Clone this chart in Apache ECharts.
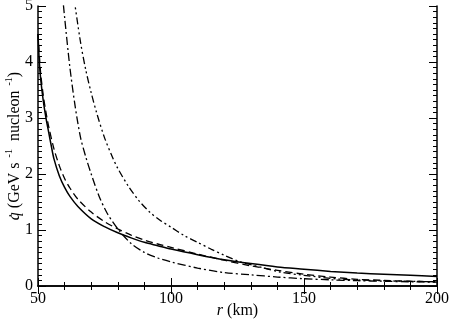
<!DOCTYPE html>
<html><head><meta charset="utf-8">
<script src="https://cdn.jsdelivr.net/npm/echarts@6/dist/echarts.min.js"></script>
<style>html,body{margin:0;padding:0;background:#fff}#c{width:450px;height:321px}</style>
</head><body><div id="c"></div>
<script>
// r (km) and q-dot (GeV s^-1 nucleon^-1)
const solidR = [50, 50.5, 51, 52, 53, 54, 55, 56, 58, 60, 62, 65, 70, 75, 80, 85, 90, 95, 100, 110, 120, 130, 140, 150, 160, 170, 180, 190, 200];
const solidQ = [4.5, 4.0, 3.7, 3.3, 3.0, 2.75, 2.5, 2.27, 1.97, 1.76, 1.6, 1.42, 1.2, 1.06, 0.95, 0.86, 0.78, 0.72, 0.66, 0.56, 0.47, 0.4, 0.34, 0.3, 0.26, 0.23, 0.21, 0.19, 0.17];
const dashR = [50, 51, 52, 53, 54, 56, 58, 60, 62, 65, 70, 75, 80, 85, 90, 95, 100, 110, 120, 130, 140, 150, 160, 170, 180, 190, 200];
const dashQ = [4.5, 3.8, 3.4, 3.1, 2.85, 2.45, 2.15, 1.92, 1.75, 1.55, 1.32, 1.15, 1.02, 0.91, 0.82, 0.75, 0.69, 0.57, 0.46, 0.36, 0.28, 0.21, 0.16, 0.12, 0.1, 0.085, 0.075];
const dotR = [59, 60, 62, 64, 66, 68, 70, 73, 76, 80, 85, 90, 95, 100, 110, 120, 130, 140, 150, 160, 170, 180, 190, 200];
const dotQ = [5.3, 4.8, 3.9, 3.2, 2.65, 2.3, 2.0, 1.6, 1.3, 1.02, 0.76, 0.6, 0.5, 0.43, 0.32, 0.24, 0.2, 0.16, 0.13, 0.11, 0.095, 0.085, 0.075, 0.07];
const dot2R = [63.5, 66, 68, 70, 72, 75, 78, 80, 84, 88, 92, 96, 100, 105, 110, 115, 120, 126, 130, 135, 141, 150, 163, 175, 188, 200];
const dot2Q = [5.15, 4.35, 3.85, 3.45, 3.1, 2.65, 2.3, 2.1, 1.78, 1.52, 1.32, 1.17, 1.05, 0.9, 0.78, 0.66, 0.55, 0.43, 0.38, 0.32, 0.25, 0.19, 0.125, 0.1, 0.085, 0.075];
const xTicks = [50, 100, 150, 200];
const yTicks = [0, 1, 2, 3, 4, 5];

const pairs = (a, b) => a.map((v, i) => [v, b[i]]);
const FONT = 'Liberation Serif';
const axisLine = { lineStyle: { color: '#000', width: 1.5 } };
const tick = { inside: true, length: 8, lineStyle: { color: '#000', width: 1 } };
const mx = { show: true, splitNumber: 5, length: 4, lineStyle: { color: '#000', width: 1 } };
const my = { show: true, splitNumber: 10, length: 4, lineStyle: { color: '#000', width: 1 } };
const xBase = { type: 'value', min: xTicks[0], max: xTicks[xTicks.length - 1], interval: 50, splitLine: { show: false }, axisLine, axisTick: tick, minorTick: mx };
const yBase = { type: 'value', min: yTicks[0], max: yTicks[yTicks.length - 1], interval: 1, splitLine: { show: false }, axisLine, axisTick: tick, minorTick: my };

const chart = echarts.init(document.getElementById('c'), null, { renderer: 'canvas' });
const ls = (type, w) => ({ color: '#000', width: w, type: type, cap: 'butt' });
const mk = (d, type, w) => ({ type: 'line', data: d, showSymbol: false, smooth: 0.3, clip: true, lineStyle: ls(type, w), animation: false });
chart.setOption({
  animation: false,
  backgroundColor: '#fff',
  grid: { left: 38, right: 13, top: 6, bottom: 35, containLabel: false, outerBoundsMode: 'none' },
  xAxis: [
    Object.assign({}, xBase, {
      position: 'bottom',
      axisLabel: { color: '#000', fontFamily: FONT, fontSize: 16, margin: 5 },
      name: '{i|r} (km)', nameLocation: 'middle', nameGap: 17, nameMoveOverlap: false,
      nameTextStyle: { color: '#000', fontFamily: FONT, fontSize: 16, rich: { i: { fontStyle: 'italic', fontFamily: FONT, fontSize: 16, color: '#000' } } }
    }),
    Object.assign({}, xBase, { position: 'top', axisLabel: { show: false } })
  ],
  yAxis: [
    Object.assign({}, yBase, {
      position: 'left',
      axisLabel: { color: '#000', fontFamily: FONT, fontSize: 16, margin: 5 },
      name: '{i|q\u0307} (GeV s{s|  -1}  nucleon{s|  -1})', nameLocation: 'middle', nameGap: 12, nameMoveOverlap: false,
      nameTextStyle: { color: '#000', fontFamily: FONT, fontSize: 16, lineHeight: 22,
        rich: { i: { fontStyle: 'italic', fontFamily: FONT, fontSize: 16, color: '#000', lineHeight: 22 },
                s: { fontFamily: FONT, fontSize: 10, color: '#000', lineHeight: 10, verticalAlign: 'top' } } }
    }),
    Object.assign({}, yBase, { position: 'right', axisLabel: { show: false } })
  ],
  series: [
    mk(pairs(solidR, solidQ), 'solid', 1.5),
    mk(pairs(dashR, dashQ), [7, 4], 1.3),
    mk(pairs(dotR, dotQ), [8, 3, 2, 3], 1.3),
    mk(pairs(dot2R, dot2Q), [7, 3, 2, 3, 2, 3], 1.3)
  ]
});
</script></body></html>
